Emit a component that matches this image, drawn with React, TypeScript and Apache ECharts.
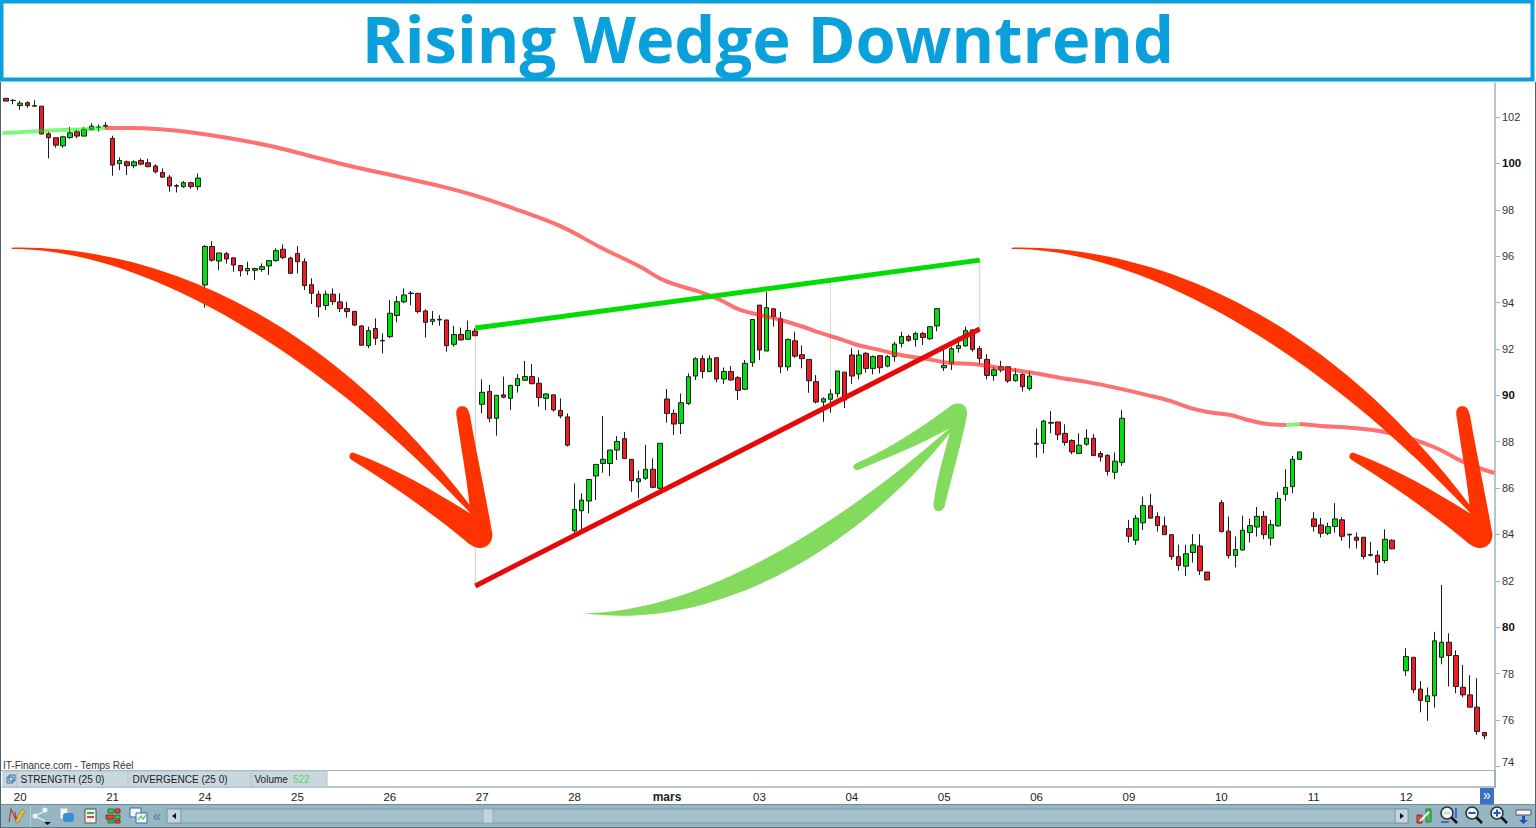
import React, { useEffect, useRef } from "react";
import * as echarts from "echarts";

// every bar row is [open, close, low, high], null where the session has no print
const feb19 = [
  [102.81, 102.69, 102.69, 102.81],
  [102.72, 102.71, 102.55, 102.78],
];
const feb20 = [
  [102.5, 102.6, 102.32, 102.7],
  [102.62, 102.5, 102.4, 102.68],
  [102.49, 102.47, 102.46, 102.73],
  [102.47, 101.27, 101.27, 102.47],
  [101.28, 101.11, 100.22, 101.37],
  [101.11, 100.79, 100.68, 101.11],
  [100.76, 101.15, 100.68, 101.2],
  [101.12, 101.32, 101.05, 101.57],
  [101.37, 101.18, 101.08, 101.47],
  [101.18, 101.47, 101.18, 101.57],
  [101.47, 101.61, 101.43, 101.74],
  [101.56, 101.57, 101.37, 101.68],
  [101.6, 101.64, 101.51, 101.78],
];
const feb21 = [
  [101.08, 99.93, 99.47, 101.2],
  [99.99, 100.13, 99.71, 100.26],
  [100.07, 99.9, 99.5, 100.13],
  [99.9, 100.07, 99.79, 100.13],
  [100.13, 99.97, 99.92, 100.22],
  [100.03, 99.86, 99.84, 100.2],
  [99.89, 99.64, 99.57, 99.97],
  [99.61, 99.41, 99.38, 99.79],
  [99.41, 99.03, 98.78, 99.5],
  [99.04, 99.02, 98.75, 99.11],
  [99.0, 99.17, 98.95, 99.24],
  [99.17, 99.0, 98.91, 99.21],
  [99.0, 99.37, 98.85, 99.57],
];
const feb24 = [
  [94.76, 96.42, 93.78, 96.48],
  [96.42, 95.83, 95.76, 96.65],
  [95.79, 96.14, 95.4, 96.14],
  [96.11, 95.88, 95.68, 96.19],
  [95.93, 95.62, 95.33, 95.93],
  [95.6, 95.37, 95.13, 95.6],
  [95.37, 95.47, 95.19, 95.76],
  [95.39, 95.47, 94.97, 95.5],
  [95.43, 95.55, 95.33, 95.69],
  [95.58, 95.81, 95.19, 95.81],
  [95.81, 96.24, 95.76, 96.34],
  [96.3, 95.94, 95.87, 96.51],
  [95.92, 95.26, 95.23, 95.98],
];
const feb25 = [
  [96.12, 95.76, 95.26, 96.44],
  [95.76, 94.73, 94.54, 95.91],
  [94.77, 94.4, 93.94, 95.05],
  [94.36, 93.82, 93.36, 94.51],
  [93.87, 94.36, 93.68, 94.51],
  [94.36, 94.04, 93.9, 94.61],
  [94.03, 93.74, 93.59, 94.4],
  [93.74, 93.61, 93.35, 94.04],
  [93.62, 93.03, 92.99, 93.62],
  [92.99, 92.16, 92.16, 93.03],
  [92.14, 92.79, 92.03, 92.96],
  [92.88, 92.46, 92.17, 93.32],
  [92.37, 92.35, 91.81, 92.67],
];
const feb26 = [
  [92.53, 93.54, 92.46, 94.11],
  [93.44, 94.04, 93.15, 94.28],
  [94.03, 94.33, 93.97, 94.61],
  [94.41, 94.39, 93.88, 94.5],
  [94.4, 93.61, 93.54, 94.4],
  [93.64, 93.15, 92.49, 93.71],
  [93.19, 93.28, 93.03, 93.64],
  [93.28, 93.25, 93.0, 93.46],
  [93.25, 92.14, 91.88, 93.25],
  [92.2, 92.62, 92.1, 93.0],
  [92.63, 92.39, 92.36, 92.92],
  [92.42, 92.79, 92.39, 93.22],
  [92.77, 92.57, 92.56, 92.89],
];
const feb27 = [
  [89.61, 90.13, 89.22, 90.69],
  [90.17, 89.01, 88.84, 90.45],
  [89.01, 90.0, 88.26, 90.02],
  [90.02, 89.92, 89.87, 90.81],
  [89.87, 90.43, 89.37, 90.43],
  [90.42, 90.72, 90.12, 90.92],
  [90.65, 90.81, 90.62, 91.48],
  [90.81, 90.5, 90.48, 91.35],
  [90.52, 89.9, 89.51, 90.78],
  [89.87, 90.06, 89.37, 90.09],
  [90.02, 89.37, 89.3, 90.02],
  [89.35, 89.11, 89.01, 89.87],
  [89.07, 87.85, 87.79, 89.22],
];
const feb28 = [
  [84.16, 85.08, 84.05, 86.2],
  [85.02, 85.48, 84.19, 85.77],
  [85.44, 86.37, 84.91, 86.37],
  [86.52, 87.02, 85.48, 87.02],
  [87.06, 87.24, 86.66, 89.11],
  [87.06, 87.64, 86.52, 87.64],
  [87.64, 88.01, 87.21, 88.24],
  [88.13, 87.27, 87.27, 88.42],
  [87.24, 86.32, 85.84, 87.24],
  [86.27, 86.4, 85.56, 86.75],
  [86.42, 86.81, 86.35, 87.86],
  [86.81, 86.03, 85.99, 87.28],
  [85.99, 87.93, 85.94, 87.93],
];
const mar01 = [
  [89.84, 89.22, 88.82, 90.27],
  [89.22, 88.76, 88.29, 89.39],
  [88.79, 89.68, 88.33, 90.08],
  [89.65, 90.8, 89.58, 90.95],
  [90.83, 91.58, 90.66, 91.64],
  [91.58, 91.03, 90.73, 91.72],
  [91.03, 91.58, 91.0, 91.72],
  [91.62, 90.7, 90.56, 91.64],
  [90.7, 91.03, 90.49, 91.2],
  [91.03, 90.66, 90.63, 91.26],
  [90.76, 90.21, 89.8, 90.83],
  [90.26, 91.38, 90.23, 91.52],
  [91.41, 93.27, 91.23, 93.27],
];
const mar03 = [
  [93.89, 91.95, 91.52, 93.89],
  [91.91, 93.78, 91.91, 94.47],
  [93.73, 93.39, 92.96, 93.76],
  [93.3, 91.23, 90.95, 93.6],
  [91.23, 92.41, 91.06, 92.45],
  [92.35, 91.69, 91.62, 92.74],
  [91.75, 91.58, 91.16, 92.15],
  [91.55, 90.63, 90.11, 91.55],
  [90.59, 89.71, 89.65, 90.87],
  [89.71, 89.85, 88.86, 89.91],
  [89.83, 90.06, 89.25, 90.26],
  [90.07, 91.05, 89.91, 91.05],
  [91.0, 89.8, 89.45, 91.0],
];
const mar04 = [
  [91.74, 90.83, 90.49, 92.03],
  [90.92, 91.74, 90.69, 91.95],
  [91.81, 91.16, 90.98, 91.87],
  [91.16, 91.67, 90.9, 91.72],
  [91.71, 91.19, 90.95, 91.74],
  [91.26, 91.67, 91.21, 91.74],
  [91.67, 92.21, 91.45, 92.31],
  [92.24, 92.54, 92.07, 92.74],
  [92.54, 92.37, 92.31, 92.61],
  [92.41, 92.67, 92.1, 92.74],
  [92.67, 92.49, 92.17, 92.74],
  [92.44, 92.96, 92.38, 92.99],
  [92.99, 93.74, 92.76, 93.74],
];
const mar05 = [
  [91.19, 91.29, 91.05, 91.95],
  [91.38, 92.01, 91.09, 92.1],
  [92.02, 92.15, 91.84, 92.53],
  [92.13, 92.79, 92.1, 92.96],
  [92.82, 91.98, 91.88, 92.84],
  [92.02, 91.59, 91.35, 92.13],
  [91.55, 90.86, 90.69, 91.77],
  [90.86, 91.1, 90.63, 91.23],
  [91.09, 91.23, 90.99, 91.49],
  [91.23, 90.62, 90.54, 91.23],
  [90.63, 90.89, 90.59, 91.16],
  [90.9, 90.37, 90.16, 90.95],
  [90.29, 90.83, 90.2, 91.05],
];
const mar06 = [
  [87.93, 87.89, 87.31, 88.57],
  [87.93, 88.89, 87.5, 88.93],
  [88.83, 88.8, 88.36, 89.32],
  [88.85, 88.3, 88.07, 88.85],
  [88.36, 87.97, 87.83, 88.75],
  [88.05, 87.56, 87.46, 88.1],
  [87.49, 87.85, 87.47, 88.36],
  [87.89, 88.15, 87.82, 88.54],
  [88.15, 87.4, 87.39, 88.33],
  [87.49, 87.34, 87.14, 87.59],
  [87.41, 86.72, 86.54, 87.46],
  [86.68, 87.16, 86.38, 87.54],
  [87.11, 89.01, 86.95, 89.37],
];
const mar09 = [
  [84.25, 83.92, 83.65, 84.63],
  [83.75, 84.7, 83.55, 84.84],
  [84.5, 85.24, 84.19, 85.63],
  [85.24, 84.7, 84.7, 85.75],
  [84.77, 84.38, 84.12, 84.96],
  [84.37, 83.99, 83.98, 84.77],
  [83.99, 83.04, 82.9, 83.99],
  [83.04, 82.66, 82.44, 83.56],
  [82.63, 83.17, 82.21, 83.56],
  [83.22, 83.55, 82.79, 84.01],
  [83.5, 82.43, 82.25, 84.01],
  [82.38, 82.04, 82.01, 82.38],
  null,
];
const mar10 = [
  [85.37, 84.12, 84.09, 85.49],
  [84.14, 83.09, 82.96, 84.77],
  [83.09, 83.35, 82.58, 83.91],
  [83.33, 84.18, 83.3, 84.81],
  [84.08, 84.38, 83.65, 84.68],
  [84.32, 84.78, 83.91, 85.19],
  [84.78, 83.99, 83.79, 85.01],
  [83.84, 84.42, 83.52, 84.63],
  [84.37, 85.55, 84.34, 85.82],
  [85.73, 86.03, 85.45, 86.81],
  [86.06, 87.24, 85.78, 87.39],
  [87.24, 87.56, 87.23, 87.57],
  null,
];
const mar11 = [
  [84.67, 84.34, 84.12, 84.96],
  [84.41, 84.05, 83.87, 84.71],
  [84.05, 84.34, 83.97, 84.51],
  [84.34, 84.67, 84.08, 85.35],
  [84.63, 83.92, 83.72, 84.74],
  [84.01, 83.98, 83.4, 84.01],
  [83.88, 83.75, 83.39, 84.08],
  [83.88, 83.05, 82.93, 83.88],
  [83.13, 83.1, 83.05, 83.68],
  [83.1, 82.8, 82.25, 83.3],
  [82.87, 83.79, 82.76, 84.22],
  [83.75, 83.38, 83.36, 83.79],
  null,
];
const mar12 = [
  [78.12, 78.73, 77.9, 79.09],
  [78.7, 77.3, 77.15, 78.7],
  [77.33, 76.84, 76.33, 77.68],
  [76.79, 77.04, 75.96, 77.4],
  [77.04, 79.41, 76.53, 79.8],
  [78.7, 79.35, 78.4, 81.82],
  [79.35, 78.78, 77.44, 79.74],
  [78.78, 77.44, 77.15, 79.0],
  [77.41, 77.08, 76.98, 78.37],
  [77.08, 76.55, 76.55, 77.93],
  [76.55, 75.5, 75.36, 77.8],
  [75.46, 75.31, 75.17, 75.46],
  null,
];

const sessions = [
  feb19, feb20, feb21, feb24, feb25, feb26, feb27, feb28,
  mar01, mar03, mar04, mar05, mar06, mar09, mar10, mar11, mar12,
];
const dayLabels = ["", "20", "21", "24", "25", "26", "27", "28", "mars", "03", "04", "05", "06", "09", "10", "11", "12"];
const priceTicks = [74, 76, 78, 80, 82, 84, 86, 88, 90, 92, 94, 96, 98, 100, 102];

// moving average, [bar index, price], split where it flips colour
const maGreenLeft = [[-0.5, 101.31], [2, 101.35], [6.2, 101.42], [10.4, 101.46], [14, 101.53]];
const maRedLeft = [
  [14, 101.53], [17.5, 101.53], [21.7, 101.48], [25.9, 101.35], [31.5, 101.09], [37.2, 100.75],
  [42.8, 100.32], [48.4, 99.89], [55.5, 99.41], [61.1, 99.02], [66.7, 98.55], [72.4, 97.95],
  [78, 97.3], [83.6, 96.39], [89.3, 95.53], [92.5, 94.97], [98.1, 94.41], [100.5, 94.11],
  [103.3, 93.68], [106.2, 93.46], [109, 93.25], [111.8, 92.99], [114.6, 92.69], [117.8, 92.38],
  [119.8, 92.17], [123, 91.95], [125.9, 91.74], [129.7, 91.56], [132.9, 91.39], [136.1, 91.35],
  [139.9, 91.18], [144.6, 90.96], [148.4, 90.75], [152.2, 90.57], [156.4, 90.31], [160.6, 90.01],
  [163.9, 89.75], [166.7, 89.45], [169.1, 89.28], [172.3, 89.15], [174.2, 88.98], [177.5, 88.76],
  [180.1, 88.72],
];
const maGreenMid = [[180.1, 88.72], [181.1, 88.74], [182, 88.76]];
const maRedRight = [
  [182, 88.76], [185, 88.68], [189.6, 88.59], [195.3, 88.33], [200.9, 87.77], [205.1, 87.12], [209.4, 86.65],
];

// wedge drawn on the chart
const wedgeTop = [[66.03, 92.9], [137, 95.83]];
const wedgeBottom = [[66.03, 81.78], [137, 92.86]];
const wedgeGuides = [
  [[66.03, 92.9], [66.03, 81.78]],
  [[116, 94.97], [116, 89.58]],
  [[137, 95.83], [137, 92.86]],
];

const redArrowPath =
  "M35 38 C500 30 1000 270 1410 810 " +
  "C1400 720 1385 640 1372 550 C1365 520 1378 513 1390 514 C1403 515 1408 525 1412 545 " +
  "C1430 650 1460 790 1478 895 C1482 925 1460 942 1440 940 C1420 938 1405 925 1390 912 " +
  "C1290 830 1170 745 1055 675 C1045 668 1048 652 1062 654 C1200 705 1320 780 1415 838 " +
  "C950 340 420 40 35 42 Z";
const greenArrowPath =
  "M38 655 C380 655 800 400 1140 100 C1050 150 950 190 865 225 " +
  "C850 228 845 212 860 205 C960 160 1060 95 1140 35 C1160 20 1195 20 1192 60 " +
  "C1180 130 1150 230 1125 335 C1118 355 1088 355 1092 325 C1100 260 1120 190 1140 115 " +
  "C850 480 420 710 38 655 Z";

echarts.graphic.registerShape("redArrow", echarts.graphic.extendPath(redArrowPath, {}));
echarts.graphic.registerShape("greenArrow", echarts.graphic.extendPath(greenArrowPath, {}));

const UI_FONT = "'Liberation Sans', Arial, sans-serif";
const BLUE = "#0aa0dc";
const PANEL = "#c9d7df";
const TOOLBAR = "#97b6c4";
const AXIS = "#9fb3bb";

const cell = (x: number, w: number) => ({
  type: "rect",
  z: 60,
  shape: { x, y: 771, width: w, height: 16 },
  style: { fill: PANEL, stroke: "#b4c4cd", lineWidth: 1 },
});
const label = (text: string, x: number, y: number, fill = "#222", fontSize = 10) => ({
  type: "text",
  z: 61,
  x,
  y,
  style: { text, fill, fontSize, fontFamily: UI_FONT, textVerticalAlign: "middle" },
});
const box = (x: number, y: number, width: number, height: number, fill: string, stroke?: string) => ({
  type: "rect",
  z: 61,
  shape: { x, y, width, height },
  style: { fill, stroke, lineWidth: stroke ? 1 : 0 },
});
const lens = (x: number, y: number, mark: string) => [
  { type: "line", z: 61, shape: { x1: x + 4, y1: y + 4, x2: x + 10, y2: y + 10 }, style: { stroke: "#111", lineWidth: 2.5 } },
  { type: "circle", z: 62, shape: { cx: x, cy: y, r: 6 }, style: { fill: "#eef3f6", stroke: "#333", lineWidth: 1.5 } },
  { type: "rect", z: 63, shape: { x: x - 3.5, y: y - 1, width: 7, height: 2 }, style: { fill: mark } },
];

const buildGraphic = () => [
  // title banner
  { type: "rect", z: 0, shape: { x: 1.5, y: 1.5, width: 1531, height: 78 }, style: { fill: "#fff", stroke: BLUE, lineWidth: 4 } },
  // frame
  { type: "rect", z: 59, shape: { x: 0, y: 82, width: 1, height: 746 }, style: { fill: "#4a6572" } },
  { type: "rect", z: 59, shape: { x: 1535, y: 82, width: 1, height: 746 }, style: { fill: "#4a6572" } },
  { type: "rect", z: 59, shape: { x: 1, y: 770, width: 1495, height: 1 }, style: { fill: AXIS } },
  { type: "rect", z: 59, shape: { x: 1494, y: 770, width: 2, height: 18 }, style: { fill: AXIS } },
  // wedge arrows
  { type: "redArrow", z: 40, x: 0, y: 235, scaleX: 1 / 3, scaleY: 1 / 3, style: { fill: "#ff3300" } },
  { type: "redArrow", z: 40, x: 1000, y: 235, scaleX: 1 / 3, scaleY: 1 / 3, style: { fill: "#ff3300" } },
  { type: "greenArrow", z: 40, x: 570, y: 395, scaleX: 1 / 3, scaleY: 1 / 3, style: { fill: "#82db5c" } },
  // indicator strip
  label("IT-Finance.com - Temps Réel", 3, 765, "#333"),
  cell(3, 14),
  box(7, 777, 6, 6, "none", "#2f6ea8"),
  box(9, 775, 6, 6, "none", "#2f6ea8"),
  cell(17, 111),
  cell(129, 122),
  cell(252, 75),
  label("STRENGTH (25 0)", 20.5, 779),
  label("DIVERGENCE (25 0)", 132.5, 779),
  label("Volume", 254.5, 779),
  label("522", 293, 779, "#5fcf6a"),
  // next page button
  box(1480, 788, 14, 16, "#3b6fc4"),
  { type: "text", z: 62, x: 1487, y: 795, style: { text: "»", fill: "#fff", fontSize: 14, fontFamily: UI_FONT, textAlign: "center", textVerticalAlign: "middle" } },
  // toolbar
  { type: "rect", z: 60, shape: { x: 1, y: 804, width: 1534, height: 24 }, style: { fill: TOOLBAR } },
  { type: "rect", z: 60, shape: { x: 1, y: 804, width: 1534, height: 1 }, style: { fill: "#6f8c99" } },
  { type: "rect", z: 60, shape: { x: 1, y: 827, width: 1534, height: 1 }, style: { fill: "#5e7783" } },
  { type: "rect", z: 60, shape: { x: 30, y: 806, width: 1, height: 20 }, style: { fill: "#b7ccd6" } },
  // scroll bar
  box(167, 809, 1241, 14, "#a5c0cd", "#7d99a6"),
  box(167, 809, 14, 14, "#c3d5de", "#7d99a6"),
  box(1395, 809, 13, 14, "#c3d5de", "#7d99a6"),
  box(483, 809, 10, 14, "#c3d5de", "#8ea8b4"),
  { type: "polygon", z: 62, shape: { points: [[176, 813], [176, 819], [172, 816]] }, style: { fill: "#111" } },
  { type: "polygon", z: 62, shape: { points: [[1400, 813], [1400, 819], [1404, 816]] }, style: { fill: "#111" } },
  { type: "text", z: 62, x: 157, y: 815, style: { text: "«", fill: "#5c7a88", fontSize: 15, fontFamily: UI_FONT, textAlign: "center", textVerticalAlign: "middle" } },
  // left toolbar icons
  { type: "polyline", z: 61, shape: { points: [[9, 822], [11, 809], [17, 822], [15, 812]] }, style: { stroke: "#b23a2e", fill: "none", lineWidth: 1.2 } },
  { type: "polygon", z: 62, shape: { points: [[15, 822], [22, 809], [25, 811], [18, 823]] }, style: { fill: "#e8c23a", stroke: "#7a6a20", lineWidth: 0.5 } },
  { type: "line", z: 61, shape: { x1: 35, y1: 816, x2: 45, y2: 811 }, style: { stroke: "#eef3f6", lineWidth: 1.2 } },
  { type: "line", z: 61, shape: { x1: 35, y1: 816, x2: 45, y2: 821 }, style: { stroke: "#eef3f6", lineWidth: 1.2 } },
  { type: "circle", z: 62, shape: { cx: 35, cy: 816, r: 2.5 }, style: { fill: "#eef3f6" } },
  { type: "circle", z: 62, shape: { cx: 45, cy: 810, r: 2.5 }, style: { fill: "#eef3f6" } },
  { type: "polygon", z: 62, shape: { points: [[44, 822], [51, 822], [47.5, 825]] }, style: { fill: "#111" } },
  box(60, 808, 8, 11, "#f4f6f7", "#9db0ba"),
  { type: "rect", z: 62, shape: { x: 63, y: 813, width: 11, height: 9, r: 3 }, style: { fill: "#3a8fd8" } },
  box(85, 809, 11, 14, "#eef1ee", "#555"),
  box(87, 812, 7, 2, "#4aa84a"),
  box(87, 816, 7, 2, "#d64a3a"),
  box(108, 809, 6, 4, "#3fbf4c", "#2a7a33"),
  box(115, 809, 5, 4, "#d84a3a", "#8a2c22"),
  box(106, 815, 8, 4, "#d84a3a", "#8a2c22"),
  box(115, 815, 5, 4, "#3fbf4c", "#2a7a33"),
  box(108, 820, 6, 3, "#3fbf4c", "#2a7a33"),
  box(115, 820, 5, 3, "#d84a3a", "#8a2c22"),
  box(130, 808, 11, 9, "#f4f6f7", "#2f6ea8"),
  box(136, 813, 11, 10, "#f4f6f7", "#2f6ea8"),
  { type: "polyline", z: 63, shape: { points: [[138, 820], [141, 816], [143, 819], [146, 815]] }, style: { stroke: "#3fbf4c", fill: "none", lineWidth: 1.2 } },
  // right toolbar icons
  box(1417, 815, 5, 8, "#d84a3a", "#8a2c22"),
  box(1426, 809, 5, 13, "#3fbf4c", "#2a7a33"),
  { type: "line", z: 62, shape: { x1: 1420, y1: 821, x2: 1429, y2: 812 }, style: { stroke: "#f4f6f7", lineWidth: 2 } },
  ...lens(1447, 813, "#ccd6db"),
  { type: "line", z: 63, shape: { x1: 1456, y1: 808, x2: 1456, y2: 818 }, style: { stroke: "#1a55c8", lineWidth: 1.5 } },
  { type: "line", z: 63, shape: { x1: 1441, y1: 822, x2: 1449, y2: 822 }, style: { stroke: "#1a55c8", lineWidth: 1.5 } },
  ...lens(1472, 813, "#1a55c8"),
  ...lens(1497, 813, "#1a55c8"),
  { type: "rect", z: 64, shape: { x: 1496, y: 809.5, width: 2, height: 7 }, style: { fill: "#1a55c8" } },
  box(1516, 810, 15, 5, "#f4f6f7", "#555"),
  box(1522, 816, 3, 4, "#1a55c8"),
  { type: "polygon", z: 62, shape: { points: [[1519, 820], [1528, 820], [1523.5, 824]] }, style: { fill: "#1a55c8" } },
];

const RisingWedgeChart: React.FC = () => {
  const chartRef = useRef<HTMLDivElement>(null);

  useEffect(() => {
    if (!chartRef.current) return;

    const bars = sessions.flat().map((row) => row || ["-", "-", "-", "-"]);
    const slots = sessions.flatMap((rows, day) => rows.map((_, i) => (i === 0 ? dayLabels[day] : "")));

    const overlay = (data: number[][], color: string, width: number, opacity = 1, z = 5, smooth = 0) => ({
      type: "line",
      xAxisIndex: 1,
      data,
      symbol: "none",
      silent: true,
      smooth,
      z,
      lineStyle: { color, width, opacity, cap: "butt" },
    });

    const option = {
      animation: false,
      backgroundColor: "#fff",
      title: {
        text: "Rising Wedge Downtrend",
        left: "center",
        top: 2,
        padding: 0,
        z: 10,
        textStyle: { color: BLUE, fontFamily: "'Open Sans'", fontWeight: 700, fontSize: 65, lineHeight: 72 },
      },
      grid: { left: 2.45, top: 83, width: 1492.55, bottom: 58 },
      xAxis: [
        {
          type: "category",
          data: slots,
          position: "bottom",
          offset: 17,
          axisLine: { lineStyle: { color: AXIS, width: 1.5 } },
          axisTick: {
            alignWithLabel: true,
            length: 2,
            interval: (_: number, v: string) => v !== "",
            lineStyle: { color: AXIS },
          },
          axisLabel: {
            interval: (_: number, v: string) => v !== "",
            hideOverlap: false,
            margin: 4,
            color: "#222",
            fontFamily: UI_FONT,
            fontSize: 11.5,
            formatter: (v: string) => (v === "mars" ? "{b|mars}" : v),
            rich: { b: { fontWeight: "bold", fontSize: 12, fontFamily: UI_FONT, color: "#222" } },
          },
          splitLine: { show: false },
        },
        { type: "value", min: -0.5, max: 209.5, show: false, splitLine: { show: false } },
      ],
      yAxis: {
        type: "value",
        position: "right",
        min: 73.84,
        max: 103.47,
        scale: true,
        axisLine: { show: true, onZero: false, lineStyle: { color: AXIS, width: 1.5 } },
        axisTick: { show: true, length: 5, lineStyle: { color: AXIS }, customValues: priceTicks },
        splitLine: { show: false },
        axisLabel: {
          customValues: priceTicks,
          margin: 7,
          color: "#333",
          fontFamily: UI_FONT,
          fontSize: 11,
          formatter: (v: number) => {
            if (v === 74) return "{low|74}";
            return v % 10 === 0 ? "{b|" + v + "}" : String(v);
          },
          rich: {
            b: { fontWeight: "bold", fontSize: 11.5, fontFamily: UI_FONT, color: "#111" },
            low: { fontSize: 11, fontFamily: UI_FONT, color: "#333", padding: [0, 0, 8, 0] },
          },
        },
      },
      series: [
        ...wedgeGuides.map((g, i) => overlay(g, i === 1 ? "#d9dcc8" : "#cfcfcf", 1, 1, 1)),
        {
          type: "candlestick",
          data: bars,
          barWidth: 5,
          z: 3,
          silent: true,
          itemStyle: {
            color: "#00e010",
            color0: "#ee1c25",
            borderColor: "#1c1c1c",
            borderColor0: "#1c1c1c",
            borderColorDoji: "#1c1c1c",
            borderWidth: 1,
          },
        },
        overlay(maGreenLeft, "#00f000", 4, 0.5, 5, 0.4),
        overlay(maRedLeft, "#ff1a1a", 4, 0.62, 5, 0.4),
        overlay(maGreenMid, "#00f000", 4, 0.5, 5, 0.4),
        overlay(maRedRight, "#ff1a1a", 4, 0.62, 5, 0.4),
        overlay(wedgeTop, "#00dd00", 5, 1, 6),
        overlay(wedgeBottom, "#e50a0a", 5, 1, 6),
      ],
      graphic: buildGraphic(),
    };

    const myChart = echarts.init(chartRef.current, undefined, { renderer: "svg" });
    myChart.setOption(option);

    return () => {
      myChart.dispose();
    };
  }, []);

  return <div ref={chartRef} style={{ position: "fixed", left: 0, top: 0, width: 1536, height: 828 }} />;
};

export default function App() {
  return <RisingWedgeChart />;
}
